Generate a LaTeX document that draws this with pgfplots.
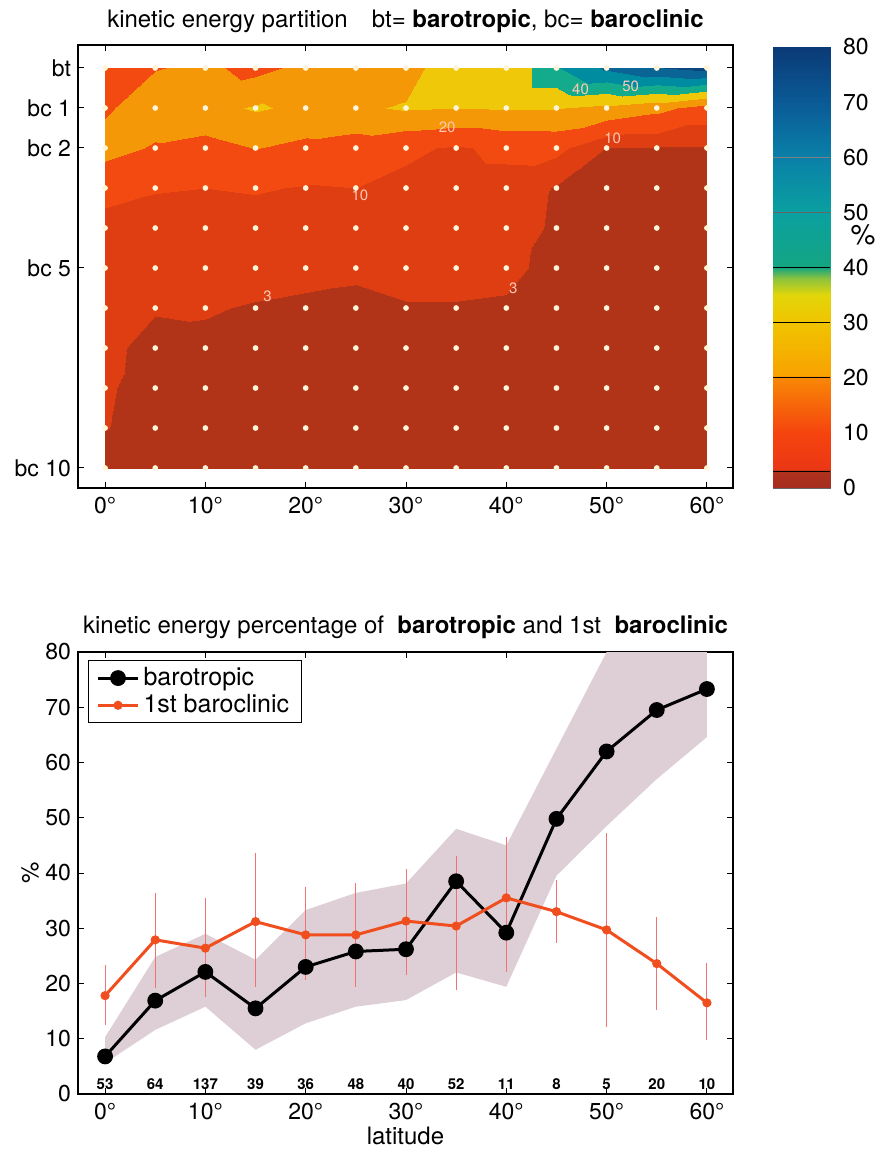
\documentclass[border=0pt]{standalone}
\usepackage{fontspec}
\setmainfont{TeX Gyre Heros}
\usepackage{pgfplots}
\pgfplotsset{compat=1.18}
\usepackage{pgfplotstable}

% band colours of the filled partition field
\definecolor{band0}{RGB}{178,52,24}
\definecolor{band1}{RGB}{222,62,18}
\definecolor{band2}{RGB}{242,74,16}
\definecolor{band3}{RGB}{245,152,8}
\definecolor{band4}{RGB}{240,200,10}
\definecolor{band5}{RGB}{20,170,140}
\definecolor{band6}{RGB}{0,140,160}
\definecolor{band7}{RGB}{10,100,150}
\definecolor{band8}{RGB}{12,70,125}
\definecolor{dotcol}{RGB}{255,244,215}
\definecolor{lbl}{RGB}{255,200,180}
\definecolor{bclin}{RGB}{240,78,30}
\definecolor{errred}{RGB}{240,115,115}
\definecolor{spread}{RGB}{222,207,214}

\pgfplotsset{
  colormap={kefill}{
    color(0pt)=(band0) color(3pt)=(band1) color(10pt)=(band2)
    color(20pt)=(band3) color(30pt)=(band4) color(40pt)=(band5)
    color(50pt)=(band6) color(60pt)=(band7) color(70pt)=(band8)
    color(80pt)=(band8)},
  colormap={kebar}{
    rgb255(0pt)=(165,45,30) rgb255(3pt)=(175,50,28) rgb255(3.5pt)=(235,55,20)
    rgb255(10pt)=(245,68,15) rgb255(20pt)=(248,135,5) rgb255(20.5pt)=(248,162,0)
    rgb255(30pt)=(240,196,0) rgb255(35pt)=(226,214,10) rgb255(38pt)=(140,195,60)
    rgb255(40pt)=(20,165,130) rgb255(50pt)=(10,160,160) rgb255(60pt)=(10,128,168)
    rgb255(70pt)=(10,90,150) rgb255(80pt)=(10,58,118)},
}

\newcommand{\txt}{\fontsize{12}{14}\selectfont}
\newcommand{\tck}{\fontsize{11.5}{13}\selectfont}
\newcommand{\lgd}{\fontsize{12.5}{14}\selectfont}

% percentage of kinetic energy per vertical mode (0 = bt, 1..10 = bc n) and latitude
\pgfplotstableread{
lat mode ke
0 0 13
5 0 19.5
10 0 22
15 0 17
20 0 23
25 0 26
30 0 25
35 0 38.5
40 0 30.5
45 0 49
50 0 62
55 0 69.5
60 0 73.5
0 1 18.5
5 1 26
10 1 27
15 1 31
20 1 28
25 1 28.5
30 1 31
35 1 30
40 1 30.8
45 1 30.5
50 1 27.4
55 1 23
60 1 15.5
0 2 24
5 2 18.9
10 2 16.6
15 2 20.3
20 2 17.3
25 2 14.9
30 2 11.5
35 2 9
40 2 12
45 2 12.3
50 2 2.8
55 2 2.5
60 2 2.5
0 3 12
5 3 10.5
10 3 10
15 3 10.6
20 3 9.5
25 3 10
30 3 8
35 3 7
40 3 7
45 3 2.5
50 3 2
55 3 2
60 3 2
0 4 8
5 4 7
10 4 6.5
15 4 7
20 4 6.5
25 4 6
30 4 5.5
35 4 5.5
40 4 5.5
45 4 2.2
50 4 1.8
55 4 1.8
60 4 1.8
0 5 6
5 5 5
10 5 4.5
15 5 4
20 5 3.8
25 5 3.5
30 5 4
35 5 4
40 5 3.8
45 5 2.0
50 5 1.7
55 5 1.7
60 5 1.6
0 6 5
5 6 3.1
10 6 3.2
15 6 2.8
20 6 2.5
25 6 2.3
30 6 2.8
35 6 2.8
40 6 2.6
45 6 1.8
50 6 1.6
55 6 1.6
60 6 1.5
0 7 3.3
5 7 2.6
10 7 2.5
15 7 2.3
20 7 2.2
25 7 2.0
30 7 2.3
35 7 2.3
40 7 2.2
45 7 1.7
50 7 1.5
55 7 1.5
60 7 1.4
0 8 3.25
5 8 2.2
10 8 2.2
15 8 2.0
20 8 2.0
25 8 1.8
30 8 2.0
35 8 2.0
40 8 2.0
45 8 1.6
50 8 1.4
55 8 1.4
60 8 1.3
0 9 3.1
5 9 2.0
10 9 2.0
15 9 1.8
20 9 1.8
25 9 1.7
30 9 1.8
35 9 1.8
40 9 1.8
45 9 1.5
50 9 1.3
55 9 1.3
60 9 1.2
0 10 1.6
5 10 1.8
10 10 1.8
15 10 1.6
20 10 1.6
25 10 1.5
30 10 1.6
35 10 1.6
40 10 1.6
45 10 1.4
50 10 1.2
55 10 1.2
60 10 1.1
}\kegrid

% barotropic, first baroclinic (with error range) and spread of the barotropic share
\pgfplotstableread{
lat bt bc1 up dn sphi splo
0 6.8 17.8 5.5 5.3 10.3 5.6
5 16.9 27.9 8.4 8.8 24.8 11.6
10 22.1 26.4 9.0 8.8 29 15.8
15 15.5 31.2 12.4 11.8 24.3 8
20 23.0 28.8 8.7 8.2 33.3 12.8
25 25.8 28.8 9.3 9.4 36.4 15.8
30 26.2 31.3 9.5 9.8 38.1 17
35 38.5 30.4 12.6 11.5 48 22
40 29.2 35.5 11.1 13.5 45 19.4
45 49.8 33.0 5.7 5.7 62.5 39.5
50 62.0 29.7 17.5 17.6 80 48.5
55 69.5 23.6 8.4 8.4 80 57
60 73.3 16.5 7.2 6.7 80 64.6
}\kestats

\begin{document}
\begin{tikzpicture}
\useasboundingbox (0pt,0pt) rectangle (440.5pt,576pt);

% ---------- upper panel: partition among vertical modes ----------
\begin{axis}[
  at={(39pt,332pt)}, anchor=south west,
  scale only axis, width=327.5pt, height=221.5pt,
  xmin=-2.7, xmax=62.6, ymin=-0.575, ymax=10.5, y dir=reverse,
  xtick={0,10,...,60},
  xticklabels={0°,10°,20°,30°,40°,50°,60°},
  ytick={0,1,2,5,10},
  yticklabels={bt,bc 1,bc 2,bc 5,bc 10},
  tick align=inside, major tick length=3pt,
  tick style={black, line width=0.5pt},
  axis line style={line width=0.6pt},
  ticklabel style={font=\tck},
  xticklabel style={yshift=-1pt},
  title={kinetic energy partition\quad bt= \textbf{barotropic}, bc= \textbf{baroclinic}},
  title style={font=\txt, at={(axis description cs:0.5,1)}, anchor=base, yshift=2.5pt},
  colormap name=kefill, colormap access=piecewise constant,
  point meta min=0, point meta max=80,
  axis on top,
]
\addplot[surf, shader=interp, mesh/cols=13, mesh/rows=11,
  point meta=\thisrow{ke}] table[x=lat, y=mode] {\kegrid};
\addplot[only marks, mark=*, mark size=1.2pt, color=dotcol,
  mark options={draw=none, fill=dotcol}]
  table[x=lat, y=mode] {\kegrid};
\begin{scope}[font=\fontsize{7.5}{8}\selectfont, text=lbl]
\node at (axis cs:25.4,3.18) {10};
\node at (axis cs:16.2,5.7) {3};
\node at (axis cs:40.7,5.5) {3};
\node at (axis cs:34.1,1.48) {20};
\node at (axis cs:50.6,1.75) {10};
\node at (axis cs:47.4,0.52) {40};
\node at (axis cs:52.4,0.45) {50};
\end{scope}
\end{axis}

% ---------- colour scale ----------
\begin{axis}[
  at={(386.5pt,332pt)}, anchor=south west,
  scale only axis, width=28.5pt, height=220.5pt,
  xmin=0, xmax=1, ymin=0, ymax=80,
  xtick=\empty, ytick={0,10,...,80},
  yticklabel pos=right, major tick length=0pt,
  ticklabel style={font=\tck},
  yticklabel style={xshift=3pt},
  /pgf/number format/assume math mode=true,
  axis line style={line width=0.4pt, black!60},
  colormap name=kebar, point meta min=0, point meta max=80,
  ylabel={\%}, ylabel style={font=\fontsize{14}{16}\selectfont, at={(axis description cs:1.58,0.575)}, anchor=center, rotate=-90},
]
\addplot[surf, shader=interp, mesh/cols=2, mesh/rows=2, point meta=\thisrow{v}]
  table {
x y v
0 0 0
1 0 0
0 80 80
1 80 80
};
\addplot[black, line width=0.5pt] coordinates {(0,3) (1,3)};
\addplot[black, line width=0.5pt] coordinates {(0,20) (1,20)};
\addplot[black, line width=0.5pt] coordinates {(0,30) (1,30)};
\addplot[black, line width=0.5pt] coordinates {(0,40) (1,40)};
\addplot[black!60, line width=0.4pt] coordinates {(0,50) (1,50)};
\addplot[black!50, line width=0.4pt] coordinates {(0,60) (1,60)};
\end{axis}

% ---------- lower panel: barotropic and first baroclinic share ----------
\begin{axis}[
  at={(39pt,29pt)}, anchor=south west,
  scale only axis, width=327.5pt, height=221pt,
  xmin=-2.7, xmax=62.6, ymin=0, ymax=80,
  xtick={0,10,...,60},
  xticklabels={0°,10°,20°,30°,40°,50°,60°},
  ytick={0,10,...,80},
  tick align=inside, major tick length=3pt,
  tick style={black, line width=0.5pt},
  axis line style={line width=0.6pt},
  ticklabel style={font=\tck},
  xticklabel style={yshift=-1pt},
  /pgf/number format/assume math mode=true,
  xlabel={latitude},
  xlabel style={font=\txt, at={(axis description cs:0.5,-0.115)}, anchor=base},
  ylabel={\%},
  ylabel style={font=\txt, at={(axis description cs:-0.073,0.5)}, anchor=center},
  title={kinetic energy percentage of \ \textbf{barotropic} and 1st \ \textbf{baroclinic}},
  title style={font=\txt, at={(axis description cs:0.5,1)}, anchor=base, yshift=3.5pt},
  legend style={at={(axis description cs:0.0153,0.982)}, anchor=north west,
    draw=black, line width=0.5pt, inner xsep=4pt, inner ysep=1.5pt, row sep=-1pt,
    font=\lgd, nodes={inner sep=2pt, font=\lgd}, cells={anchor=west}},
  legend image code/.code={\draw[mark repeat=2,mark phase=2,#1]
    plot coordinates {(0pt,0pt) (10pt,0pt) (20pt,0pt)};},
]
% spread of the barotropic share: lower bound, then the band on top of it
\addplot[draw=none, stack plots=y, forget plot] table[x=lat, y=splo] {\kestats};
\addplot[draw=none, fill=spread, stack plots=y, forget plot]
  table[x=lat, y expr=\thisrow{sphi}-\thisrow{splo}] {\kestats} \closedcycle;
\addplot[black, line width=1.5pt, mark=*, mark size=3.2pt]
  table[x=lat, y=bt] {\kestats};
\addlegendentry{\lgd barotropic}
\addplot[bclin, line width=1.5pt, mark=*, mark size=1.5pt,
  error bars/.cd, y dir=both, y explicit, error mark=none,
  error bar style={line width=0.5pt, errred, solid}]
  table[x=lat, y=bc1, y error plus=up, y error minus=dn] {\kestats};
\addlegendentry{\lgd 1st baroclinic}
\begin{scope}[font=\bfseries\fontsize{7.5}{8}\selectfont]
\node at (axis cs:0,1.7) {53};
\node at (axis cs:5,1.7) {64};
\node at (axis cs:10,1.7) {137};
\node at (axis cs:15,1.7) {39};
\node at (axis cs:20,1.7) {36};
\node at (axis cs:25,1.7) {48};
\node at (axis cs:30,1.7) {40};
\node at (axis cs:35,1.7) {52};
\node at (axis cs:40,1.7) {11};
\node at (axis cs:45,1.7) {8};
\node at (axis cs:50,1.7) {5};
\node at (axis cs:55,1.7) {20};
\node at (axis cs:60,1.7) {10};
\end{scope}
\end{axis}
\end{tikzpicture}
\end{document}
